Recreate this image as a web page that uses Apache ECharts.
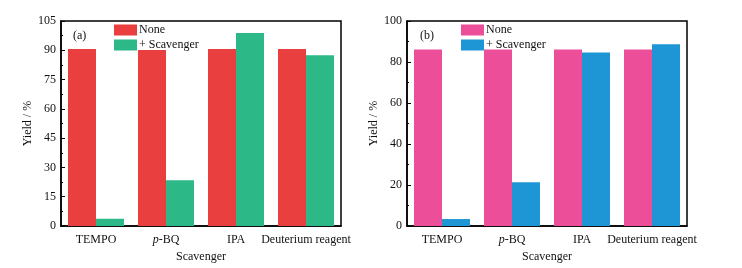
<!DOCTYPE html>
<html><head><meta charset="utf-8">
<script src="https://cdn.jsdelivr.net/npm/echarts@6/dist/echarts.min.js"></script>
<style>html,body{margin:0;padding:0;background:#fff}#c{width:742px;height:268px}</style>
</head><body><div id="c"></div>
<script>
var categories = ['TEMPO', 'p-BQ', 'IPA', 'Deuterium reagent'];
var noneA = [90.6, 90.1, 90.6, 90.6];
var scavA = [3.7, 23.4, 98.8, 87.5];
var noneB = [86.1, 86.1, 86.1, 86.1];
var scavB = [3.4, 21.3, 84.6, 88.6];
var yTicksA = {min: 0, max: 105, interval: 15};
var yTicksB = {min: 0, max: 100, interval: 20};

var FONT = '"Liberation Serif", "DejaVu Serif", serif';
var TXT = '#111';
var chart = echarts.init(document.getElementById('c'));

function catLabel(v) { return v === 'p-BQ' ? '{i|p}-BQ' : v; }

function xAxis(idx) {
  return {
    type: 'category', gridIndex: idx, data: categories,
    name: 'Scavenger', nameLocation: 'middle', nameGap: 24,
    nameTextStyle: {fontFamily: FONT, fontSize: 12, color: TXT},
    axisLine: {lineStyle: {color: '#000', width: 1.5}},
    axisTick: {show: false},
    axisLabel: {interval: 0, hideOverlap: false, fontFamily: FONT, fontSize: 12, color: TXT, margin: 8, formatter: catLabel,
      rich: {i: {fontStyle: 'italic', fontFamily: FONT, fontSize: 12, color: TXT}}},
    splitLine: {show: false}
  };
}
function yAxis(idx, t) {
  return {
    type: 'value', gridIndex: idx, min: t.min, max: t.max, interval: t.interval,
    name: 'Yield / %', nameLocation: 'middle', nameGap: 23,
    nameTextStyle: {fontFamily: FONT, fontSize: 12, color: TXT},
    axisLine: {show: true, lineStyle: {color: '#000', width: 1.5}},
    axisTick: {show: true, inside: true, length: 4, lineStyle: {color: '#000'}},
    minorTick: {show: true, splitNumber: 2, length: 2, lineStyle: {color: '#000'}},
    axisLabel: {fontFamily: FONT, fontSize: 12, color: TXT, margin: 5},
    splitLine: {show: false}
  };
}
function bar(name, data, idx, color) {
  return {
    name: name, type: 'bar', xAxisIndex: idx, yAxisIndex: idx, data: data,
    barGap: '0%', barCategoryGap: '20%', itemStyle: {color: color}
  };
}
function legend(names, left) {
  return {data: names, orient: 'vertical', left: left, top: 24, padding: 0, itemWidth: 23, itemHeight: 11, itemGap: 3,
    icon: 'rect', textStyle: {fontFamily: FONT, fontSize: 12, color: TXT, padding: [0, 0, 0, -3]}};
}

chart.setOption({
  animation: false,
  grid: [
    {left: 61, top: 21, width: 280, height: 205, show: true, borderColor: '#000', borderWidth: 1.5, backgroundColor: 'transparent'},
    {left: 407, top: 21, width: 280, height: 205, show: true, borderColor: '#000', borderWidth: 1.5, backgroundColor: 'transparent'}
  ],
  xAxis: [xAxis(0), xAxis(1)],
  yAxis: [yAxis(0, yTicksA), yAxis(1, yTicksB)],
  legend: [legend(['None', '+ Scavenger'], 114), legend(['None ', '+ Scavenger '], 461)],
  graphic: [
    {type: 'text', left: 73, top: 30, style: {text: '(a)', font: '12px ' + FONT, fill: TXT}},
    {type: 'text', left: 420, top: 30, style: {text: '(b)', font: '12px ' + FONT, fill: TXT}}
  ],
  series: [
    bar('None', noneA, 0, '#E9403F'),
    bar('+ Scavenger', scavA, 0, '#2DB987'),
    bar('None ', noneB, 1, '#EC4E9A'),
    bar('+ Scavenger ', scavB, 1, '#1E96D6')
  ]
});
</script></body></html>
